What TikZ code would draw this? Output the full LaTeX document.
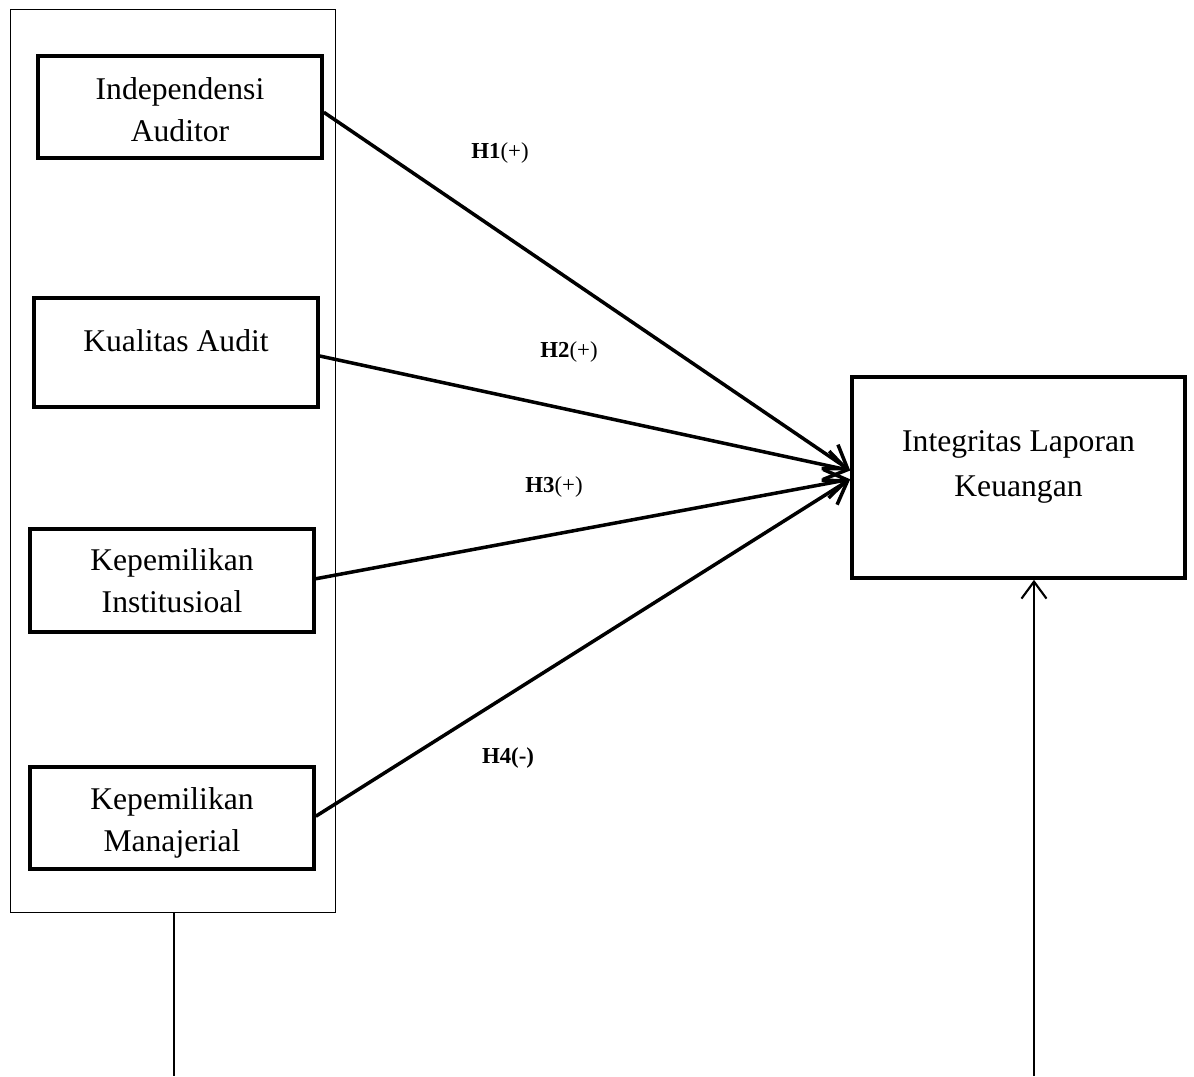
\documentclass[tikz,border=0pt]{standalone}
\usepackage{fontspec}
\setmainfont{Liberation Serif}
\usetikzlibrary{arrows.meta}

\tikzset{
    var/.style={draw, line width=2.1pt, minimum width=5.68cm, align=center,
        font=\fontsize{18}{24}\selectfont},
    vtext/.style={font=\fontsize{18}{24}\selectfont, align=center},
    hyp/.style={-{Straight Barb[length=4.3mm, width=5.8mm, line width=2pt]}, line width=2pt},
    hlab/.style={font=\fontsize{13}{15}\selectfont}
}

\begin{document}
\begin{tikzpicture}[x=0.02cm, y=-0.02cm]

    \useasboundingbox (0,0) rectangle (1194,1076);

    %% Research framework

    % Independent variables
    \node[draw, line width=0.6pt, minimum width=6.52cm, minimum height=18.08cm] (group) at (173,461) {};
    \node[var, minimum height=2.04cm, label={[vtext, yshift=-1.5pt]center:Independensi\\Auditor}] (indep) at (180,107) {};
    \node[var, minimum height=2.18cm, label={[vtext, yshift=6.5pt]center:Kualitas Audit}] (kual) at (176,352.5) {};
    \node[var, minimum height=2.06cm] (inst) at (172,580.5) {Kepemilikan\\Institusioal};
    \node[var, minimum height=2.04cm, label={[vtext, yshift=-2.8pt]center:Kepemilikan\\Manajerial}] (manj) at (172,818) {};

    % Dependent variable
    \node[var, minimum width=6.66cm, minimum height=4.02cm,
        label={[vtext, font=\fontsize{18}{25.5}\selectfont, yshift=6pt]center:Integritas Laporan\\Keuangan}] (ilk) at (1018.5,477.5) {};

    % Hypotheses
    \draw[hyp] ([yshift=-3pt]indep.east) -- ([yshift=4pt]ilk.west);
    \draw[hyp] ([yshift=-2pt]kual.east) -- ([yshift=4pt]ilk.west);
    \draw[hyp] ([yshift=1pt]inst.east) -- ([yshift=-1pt]ilk.west);
    \draw[hyp] ([yshift=1pt]manj.east) -- ([yshift=-1pt]ilk.west);

    \node[hlab] (h1) at (500,153) {\textbf{H1}(+)};
    \node[hlab] (h2) at (569,352) {\textbf{H2}(+)};
    \node[hlab] (h3) at (554,487) {\textbf{H3}(+)};
    \node[hlab] (h4) at (508,758) {\textbf{H4(-)}};

    % Lines at the bottom
    \coordinate (gfoot) at (174,1076);
    \coordinate (ifoot) at (1034,1076);
    \draw[line width=1.2pt] (group.south -| gfoot) -- (gfoot);
    \draw[-{Straight Barb[length=3.4mm, width=5mm, line width=1.2pt]}, line width=1.2pt] (ifoot) -- (ilk.south -| ifoot);

\end{tikzpicture}
\end{document}
